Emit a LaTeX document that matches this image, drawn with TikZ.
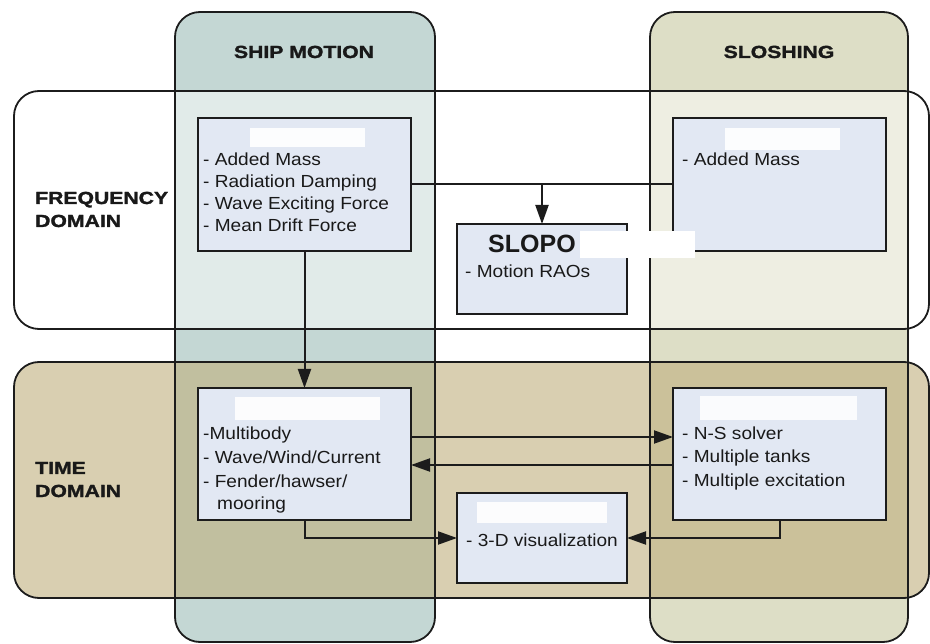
\documentclass[tikz,border=0pt]{standalone}
\usepackage{fontspec}
\setmainfont{Liberation Sans}
\newfontfamily\hdfont{Liberation Sans}[UprightFont={* Bold}, FakeStretch=1.21, FakeBold=1.6]
\newfontfamily\bodyfont{Liberation Sans}[FakeStretch=1.09]
\usetikzlibrary{arrows.meta}

\definecolor{shipfill}{RGB}{196,215,212}
\definecolor{slofill}{RGB}{221,222,198}
\definecolor{tanfill}{RGB}{192,175,125}
\definecolor{boxfill}{RGB}{226,232,243}
\definecolor{edge}{RGB}{28,28,28}
\definecolor{ink}{RGB}{25,25,25}

\tikzset{
  frame/.style={draw=edge, line width=1.8pt, rounded corners=25pt},
  infobox/.style={draw=edge, fill=boxfill, line width=1.8pt, inner sep=0pt,
    outer sep=0pt, anchor=north west},
  heading/.style={anchor=base, inner sep=0pt, text=ink,
    font=\hdfont\fontsize{17.5}{21}\selectfont},
  rowlabel/.style={anchor=base west, inner sep=0pt, text=ink,
    font=\hdfont\fontsize{17.5}{21}\selectfont},
  body/.style={anchor=base west, inner sep=0pt, text=ink,
    font=\bodyfont\fontsize{17.5}{21}\selectfont},
  link/.style={draw=edge, line width=2pt},
  arrowlink/.style={link, -{Triangle[length=19pt,width=13pt]}},
  hidden/.style={fill=white, draw=none},
}

\begin{document}
\begin{tikzpicture}[x=1pt,y=-1pt]
\useasboundingbox (0,0) rectangle (930,644);
\fill[white] (0,0) rectangle (930,644);

% column fills
\fill[shipfill, rounded corners=25pt] (175,12) rectangle (435,642);
\fill[slofill, rounded corners=25pt] (650,12) rectangle (908,642);

% band fills, laid over the columns
\fill[white, fill opacity=0.5, rounded corners=25pt] (14,91) rectangle (929,329);
\fill[tanfill, fill opacity=0.6, rounded corners=25pt] (14,362) rectangle (929,598);

% outlines of columns and bands
\draw[frame] (175,12) rectangle (435,642);
\draw[frame] (650,12) rectangle (908,642);
\draw[frame] (14,91) rectangle (929,329);
\draw[frame] (14,362) rectangle (929,598);

% headings
\node[heading] (hship) at (304,58) {SHIP MOTION};
\node[heading] (hslosh) at (779,58) {SLOSHING};
\node[rowlabel] (freq1) at (35,204) {FREQUENCY};
\node[rowlabel] (freq2) at (35,227) {DOMAIN};
\node[rowlabel] (time1) at (35,474) {TIME};
\node[rowlabel] (time2) at (35,497) {DOMAIN};

% boxes
\node[infobox, minimum width=213, minimum height=133] (sf) at (198,118) {};
\node[infobox, minimum width=213, minimum height=133] (slf) at (673,118) {};
\node[infobox, minimum width=170, minimum height=90] (slopo) at (457,224) {};
\node[infobox, minimum width=213, minimum height=132] (st) at (198,388) {};
\node[infobox, minimum width=213, minimum height=132] (slt) at (673,388) {};
\node[infobox, minimum width=170, minimum height=90] (viz) at (457,493) {};

% box contents
\foreach \t [count=\i] in {{- Added Mass},{- Radiation Damping},{- Wave Exciting Force},{- Mean Drift Force}}
  \node[body] (sfl\i) at (203,{166+22*(\i-1)}) {\t};
\node[body] (slfl1) at (682,166) {- Added Mass};
\node[anchor=base west, inner sep=0pt, text=ink,
  font=\fontsize{25}{29}\selectfont\bfseries] (slopot) at (488,253) {SLOPO};
\node[body] (slopol) at (465,278) {- Motion RAOs};
\foreach \t [count=\i] in {{-Multibody},{- Wave/Wind/Current},{- Fender/hawser/}}
  \node[body] (stl\i) at (203,{440+23.5*(\i-1)}) {\t};
\node[body] (stl4) at (217,509) {mooring};
\foreach \t [count=\i] in {{- N-S solver},{- Multiple tanks},{- Multiple excitation}}
  \node[body] (sltl\i) at (682,{440+23*(\i-1)}) {\t};
\node[body] (vizl) at (466,547) {- 3-D visualization};

% connectors
\draw[link] (sf.east) -- (slf.west);
\draw[arrowlink] (slopo.north |- sf.east) -- (slopo.north);
\draw[arrowlink] (sf.south) -- (st.north);
\draw[arrowlink] ([yshift=17pt]st.east) -- ([yshift=17pt]slt.west);
\draw[arrowlink] ([yshift=-11pt]slt.west) -- ([yshift=-11pt]st.east);
\draw[arrowlink] (st.south) |- (viz.west);
\draw[arrowlink] (slt.south) |- (viz.east);

% blanked-out title areas
\fill[hidden, opacity=0.92] (250,128) rectangle (365,147);
\fill[hidden, opacity=0.92] (725,128) rectangle (840,150);
\fill[hidden, opacity=0.9] (235,397) rectangle (380,420);
\fill[hidden, opacity=0.85] (700,396) rectangle (857,420);
\fill[hidden, opacity=0.9] (477,502) rectangle (607,523);
\fill[hidden] (580,231) rectangle (695,258);
\end{tikzpicture}
\end{document}
